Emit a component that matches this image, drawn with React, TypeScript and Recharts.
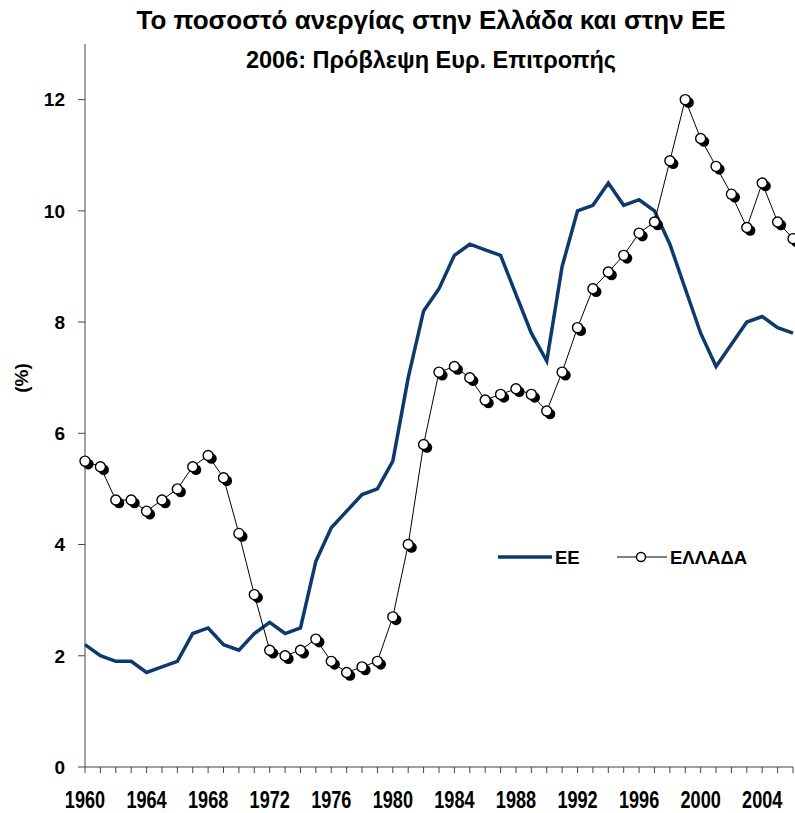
import React from "react";
import { LineChart, Line, XAxis, YAxis } from "recharts";

const years: number[] = [
  1960, 1961, 1962, 1963, 1964, 1965, 1966, 1967, 1968, 1969,
  1970, 1971, 1972, 1973, 1974, 1975, 1976, 1977, 1978, 1979,
  1980, 1981, 1982, 1983, 1984, 1985, 1986, 1987, 1988, 1989,
  1990, 1991, 1992, 1993, 1994, 1995, 1996, 1997, 1998, 1999,
  2000, 2001, 2002, 2003, 2004, 2005, 2006,
];

const euValues: number[] = [
  2.2, 2.0, 1.9, 1.9, 1.7, 1.8, 1.9, 2.4, 2.5, 2.2,
  2.1, 2.4, 2.6, 2.4, 2.5, 3.7, 4.3, 4.6, 4.9, 5.0,
  5.5, 7.0, 8.2, 8.6, 9.2, 9.4, 9.3, 9.2, 8.5, 7.8,
  7.3, 9.0, 10.0, 10.1, 10.5, 10.1, 10.2, 10.0, 9.4, 8.6,
  7.8, 7.2, 7.6, 8.0, 8.1, 7.9, 7.8,
];

const greeceValues: number[] = [
  5.5, 5.4, 4.8, 4.8, 4.6, 4.8, 5.0, 5.4, 5.6, 5.2,
  4.2, 3.1, 2.1, 2.0, 2.1, 2.3, 1.9, 1.7, 1.8, 1.9,
  2.7, 4.0, 5.8, 7.1, 7.2, 7.0, 6.6, 6.7, 6.8, 6.7,
  6.4, 7.1, 7.9, 8.6, 8.9, 9.2, 9.6, 9.8, 10.9, 12.0,
  11.3, 10.8, 10.3, 9.7, 10.5, 9.8, 9.5,
];

const yTicks: number[] = [0, 2, 4, 6, 8, 10, 12];
const xLabelYears: number[] = [1960, 1964, 1968, 1972, 1976, 1980, 1984, 1988, 1992, 1996, 2000, 2004];

const title = "Το ποσοστό ανεργίας στην Ελλάδα και στην ΕΕ";
const subtitle = "2006: Πρόβλεψη Ευρ. Επιτροπής";
const euName = "ΕΕ";
const greeceName = "ΕΛΛΑΔΑ";

const data = years.map((y, i) => ({ year: y, eu: euValues[i], gr: greeceValues[i] }));

const NAVY = "#0d3a6c";
const FONT = "'Liberation Sans', Arial, sans-serif";

const GreeceDot = (props: any) => {
  const { cx, cy, index } = props;
  if (cx == null || cy == null) return null;
  return (
    <g key={`d-${index}`}>
      <circle cx={cx + 3.3} cy={cy + 3} r={5.3} fill="#000" />
      <circle cx={cx} cy={cy} r={5} fill="#fff" stroke="#000" strokeWidth={1.4} />
    </g>
  );
};

const XTick = (props: any) => {
  const { x, y, payload } = props;
  const v = payload && payload.value;
  if (!xLabelYears.includes(v)) return null;
  return (
    <text
      transform={`translate(${x},${y + 29}) scale(0.77,1)`}
      textAnchor="middle"
      fontFamily={FONT}
      fontWeight="bold"
      fontSize={23.5}
      fill="#000"
    >
      {String(v)}
    </text>
  );
};

export default function App() {
  return (
    <div
      style={{
        position: "absolute",
        left: 0,
        top: 0,
        width: 795,
        height: 813,
        overflow: "hidden",
        background: "#fff",
        fontFamily: FONT,
      }}
    >
      <div
        style={{
          position: "absolute",
          left: 231,
          width: 400,
          top: 7,
          fontSize: 26,
          lineHeight: "26px",
          fontWeight: "bold",
          whiteSpace: "nowrap",
          display: "flex",
          justifyContent: "center",
        }}
      >
        {title}
      </div>
      <div
        style={{
          position: "absolute",
          left: 231,
          width: 400,
          top: 49,
          fontSize: 23.5,
          lineHeight: "23px",
          fontWeight: "bold",
          whiteSpace: "nowrap",
          display: "flex",
          justifyContent: "center",
        }}
      >
        {subtitle}
      </div>
      <div
        style={{
          position: "absolute",
          left: 22,
          top: 378,
          transform: "translate(-50%, -50%) rotate(-90deg)",
          fontSize: 19,
          fontWeight: "bold",
          whiteSpace: "nowrap",
        }}
      >
        (%)
      </div>
      <svg
        width={270}
        height={24}
        style={{ position: "absolute", left: 498, top: 545, overflow: "visible" }}
      >
        <line x1={0} y1={12} x2={54} y2={12} stroke={NAVY} strokeWidth={3.5} />
        <text x={57} y={19} fontFamily={FONT} fontWeight="bold" fontSize={18.5} fill="#000">{euName}</text>
        <line x1={119} y1={12} x2={169} y2={12} stroke="#000" strokeWidth={1} />
        <circle cx={143} cy={12} r={4.5} fill="#fff" stroke="#000" strokeWidth={1.4} />
        <text x={172} y={19} fontFamily={FONT} fontWeight="bold" fontSize={18.5} fill="#000">{greeceName}</text>
      </svg>
      <LineChart
        width={795}
        height={813}
        data={data}
        margin={{ top: 44, right: 2, bottom: 0, left: 0 }}
      >
        <XAxis
          dataKey="year"
          type="number"
          domain={[1960, 2006]}
          ticks={years}
          interval={0}
          tickSize={6}
          tickMargin={6}
          height={46}
          axisLine={{ stroke: "#444", strokeWidth: 1 }}
          tickLine={{ stroke: "#444", strokeWidth: 1 }}
          tick={<XTick />}
        />
        <YAxis
          type="number"
          domain={[0, 13]}
          ticks={yTicks}
          interval={0}
          width={85}
          tickSize={7}
          tickMargin={13}
          axisLine={{ stroke: "#444", strokeWidth: 1 }}
          tickLine={{ stroke: "#444", strokeWidth: 1 }}
          tick={{ fill: "#000", fontSize: 19, fontWeight: "bold", fontFamily: FONT }}
        />
        <Line
          type="linear"
          dataKey="eu"
          name={euName}
          stroke={NAVY}
          strokeWidth={3.5}
          dot={false}
          activeDot={false}
          isAnimationActive={false}
        />
        <Line
          type="linear"
          dataKey="gr"
          name={greeceName}
          stroke="#000"
          strokeWidth={1}
          dot={<GreeceDot />}
          activeDot={false}
          isAnimationActive={false}
        />
      </LineChart>
    </div>
  );
}
